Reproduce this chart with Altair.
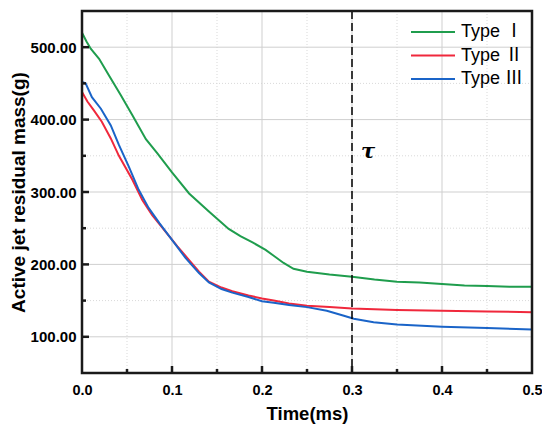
import altair as alt
import pandas as pd

# ---- data ----
t_type1 = [0, 0.005, 0.0097, 0.019, 0.03, 0.043, 0.056, 0.071, 0.084, 0.1, 0.119, 0.141, 0.163,
           0.176, 0.19, 0.204, 0.213, 0.224, 0.235, 0.25, 0.275, 0.3, 0.325, 0.35, 0.375, 0.4,
           0.425, 0.45, 0.475, 0.5]
m_type1 = [520, 508, 498, 484, 461, 434, 406, 373, 353, 327, 298, 273, 249,
           239, 230, 220, 212, 202, 194, 190, 186, 183, 179, 176, 175, 173,
           171, 170, 169, 169]

t_type2 = [0, 0.006, 0.013, 0.022, 0.032, 0.041, 0.056, 0.067, 0.078, 0.093, 0.106, 0.119, 0.13,
           0.141, 0.155, 0.167, 0.185, 0.2, 0.213, 0.23, 0.25, 0.275, 0.3, 0.35, 0.4, 0.45, 0.5]
m_type2 = [438, 425, 413, 397, 374, 350, 317, 289, 268, 245, 225, 206, 190,
           176, 168, 163, 157, 153, 150, 146, 143, 141, 139, 137, 136, 135, 134]

t_type3 = [0, 0.004, 0.011, 0.021, 0.032, 0.041, 0.052, 0.063, 0.074, 0.086, 0.1, 0.115, 0.13,
           0.141, 0.155, 0.167, 0.185, 0.2, 0.213, 0.23, 0.25, 0.272, 0.291, 0.302, 0.324, 0.35,
           0.4, 0.45, 0.5]
m_type3 = [452, 450, 431, 415, 392, 365, 335, 303, 278, 257, 234, 209, 188,
           175, 166, 161, 155, 149, 147, 144, 141, 136, 129, 125, 120, 117,
           114, 112, 110]

series_names = ["Type  \u2160", "Type  \u2161", "Type \u2162"]
series_colors = ["#1f9d4d", "#f0283c", "#1a64c8"]

x_major = [0, 0.1, 0.2, 0.3, 0.4, 0.5]
x_minor = [0.05, 0.15, 0.25, 0.35, 0.45]
y_major = [100, 200, 300, 400, 500]
y_minor = [150, 250, 350, 450]

tau_time = [0.31]
tau_value = [355]
tau_label = ["\u03c4"]
marker_time = [0.3]

# ---- tables ----
rows = []
for name, ts, ms in zip(series_names, [t_type1, t_type2, t_type3], [m_type1, m_type2, m_type3]):
    for i, (t, m) in enumerate(zip(ts, ms)):
        rows.append({"series": name, "t": t, "m": m, "order": i})
df = pd.DataFrame(rows)

W, H = 450, 362
xs = alt.Scale(domain=[0, 0.5], nice=False, zero=False)
ys = alt.Scale(domain=[50, 550], nice=False, zero=False)

FONT = "Liberation Sans"
EDGE = "#1a1a1a"

x_axis = alt.Axis(values=x_major, format=".1f", title="Time(ms)", grid=False, ticks=False,
                  domain=False, labelFontSize=14.5, labelFontWeight="bold", labelFont=FONT,
                  labelColor="black", labelPadding=10, labelFlush=False, titleFontSize=18.5,
                  titleFont=FONT, titleFontWeight="bold", titleColor="black", titlePadding=8)
y_axis = alt.Axis(values=y_major, format=".2f", title="Active jet residual mass(g)", grid=False,
                  ticks=False, domain=False, labelFontSize=15, labelFontWeight="bold",
                  labelFont=FONT, labelColor="black", labelPadding=6, labelFlush=False,
                  titleFontSize=19, titleFont=FONT, titleFontWeight="bold", titleColor="black",
                  titlePadding=2)

xminor_df = pd.DataFrame({"t": x_minor})
yminor_df = pd.DataFrame({"m": y_minor})
xmajor_df = pd.DataFrame({"t": x_major[1:-1]})
ymajor_df = pd.DataFrame({"m": y_major})

grid_x_minor = alt.Chart(xminor_df).mark_rule(color="#d9d9d9", strokeDash=[1, 2], strokeWidth=1).encode(
    x=alt.X("t:Q", scale=xs, axis=x_axis))
grid_y_minor = alt.Chart(yminor_df).mark_rule(color="#d9d9d9", strokeDash=[1, 2], strokeWidth=1).encode(
    y=alt.Y("m:Q", scale=ys, axis=y_axis))
grid_x_major = alt.Chart(xmajor_df).mark_rule(color="#cfcfcf", strokeWidth=1).encode(
    x=alt.X("t:Q", scale=xs))
grid_y_major = alt.Chart(ymajor_df).mark_rule(color="#cfcfcf", strokeWidth=1).encode(
    y=alt.Y("m:Q", scale=ys))

lines = alt.Chart(df).mark_line(strokeWidth=2).encode(
    x=alt.X("t:Q", scale=xs),
    y=alt.Y("m:Q", scale=ys),
    color=alt.Color("series:N",
                    scale=alt.Scale(domain=series_names, range=series_colors),
                    legend=alt.Legend(title=None, orient="none", legendX=339, legendY=9,
                                      symbolType="M-2,0L2,0", symbolSize=484,
                                      symbolStrokeWidth=2, symbolFillColor="transparent",
                                      labelFontSize=18,
                                      labelFont="Liberation Sans, Noto Sans CJK SC",
                                      labelColor="black", rowPadding=2.5, padding=0,
                                      labelOffset=16)),
    order="order:Q",
)

tick_x_major = alt.Chart(xmajor_df).mark_rule(color=EDGE, strokeWidth=2.5).encode(
    x=alt.X("t:Q", scale=xs), y=alt.value(H), y2=alt.value(H - 7))
tick_x_minor = alt.Chart(xminor_df).mark_rule(color=EDGE, strokeWidth=2.5).encode(
    x=alt.X("t:Q", scale=xs), y=alt.value(H), y2=alt.value(H - 4))
tick_y_major = alt.Chart(ymajor_df).mark_rule(color=EDGE, strokeWidth=2.5).encode(
    y=alt.Y("m:Q", scale=ys), x=alt.value(0), x2=alt.value(7))
tick_y_minor = alt.Chart(yminor_df).mark_rule(color=EDGE, strokeWidth=2.5).encode(
    y=alt.Y("m:Q", scale=ys), x=alt.value(0), x2=alt.value(4))

frame = alt.Chart(pd.DataFrame({"k": [0]})).mark_rect(
    fillOpacity=0, stroke=EDGE, strokeWidth=2.5).encode(
    x=alt.value(0), x2=alt.value(W), y=alt.value(0), y2=alt.value(H))

marker = alt.Chart(pd.DataFrame({"t": marker_time})).mark_rule(
    color="black", strokeWidth=1.5, strokeDash=[8, 4]).encode(x=alt.X("t:Q", scale=xs))

tau = alt.Chart(pd.DataFrame({"t": tau_time, "m": tau_value, "s": tau_label})).mark_text(
    font="DejaVu Serif", fontSize=21, fontWeight="bold", fontStyle="italic", align="left",
    baseline="middle", color="black").encode(
    x=alt.X("t:Q", scale=xs), y=alt.Y("m:Q", scale=ys), text="s:N")

chart = alt.layer(
    grid_x_minor, grid_y_minor, grid_x_major, grid_y_major, lines, marker, tau,
    tick_x_major, tick_x_minor, tick_y_major, tick_y_minor, frame,
).properties(
    width=W, height=H,
    padding={"left": 74, "top": 3, "right": 10, "bottom": 52},
    autosize=alt.AutoSizeParams(type="none"),
    background="white",
).configure_view(stroke=None)

chart.save("out.html", embed_options={"renderer": "svg", "actions": False})
